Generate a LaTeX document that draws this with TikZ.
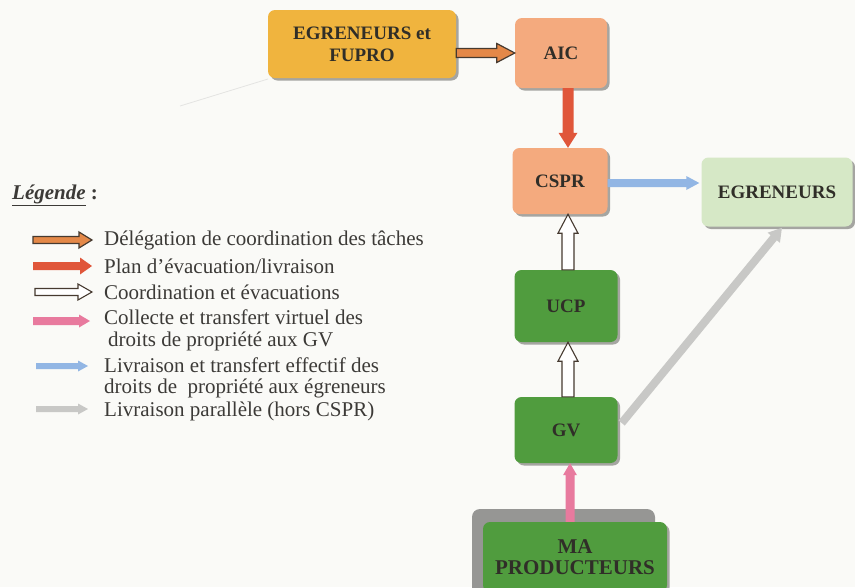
\documentclass[tikz,border=0pt]{standalone}
\usepackage{fontspec}
\setmainfont{Liberation Serif}
\usetikzlibrary{calc,shadows,arrows.meta}

\definecolor{bgc}{RGB}{250,250,247}
\definecolor{egfc}{RGB}{240,180,62}
\definecolor{salmonc}{RGB}{244,170,126}
\definecolor{dgreenc}{RGB}{80,156,62}
\definecolor{lgreenc}{RGB}{214,232,198}
\definecolor{txtc}{RGB}{48,46,40}
\definecolor{legc}{RGB}{60,58,55}
\definecolor{shadowc}{RGB}{120,120,115}
\definecolor{orangea}{RGB}{228,136,72}
\definecolor{outlinec}{RGB}{70,58,48}
\definecolor{reda}{RGB}{224,86,58}
\definecolor{pinka}{RGB}{232,122,158}
\definecolor{bluea}{RGB}{146,182,228}
\definecolor{graya}{RGB}{200,200,198}
\definecolor{mashadowc}{RGB}{150,150,148}
\definecolor{faintc}{RGB}{228,228,226}

% horizontal block arrow (left to right): style, start, tip, shaft half, head half, head length
\newcommand\myharrow[6]{\draw[#1] ($(#2)+(0,-#4)$) -- ($(#3)+(-#6,-#4)$) -- ($(#3)+(-#6,-#5)$) -- (#3) -- ($(#3)+(-#6,#5)$) -- ($(#3)+(-#6,#4)$) -- ($(#2)+(0,#4)$) -- cycle;}
% vertical block arrow: style, start, tip, shaft half, head half, head length (signed, toward start)
\newcommand\myvarrow[6]{\draw[#1] ($(#2)+(-#4,0)$) -- ($(#3)+(-#4,#6)$) -- ($(#3)+(-#5,#6)$) -- (#3) -- ($(#3)+(#5,#6)$) -- ($(#3)+(#4,#6)$) -- ($(#2)+(#4,0)$) -- cycle;}

\begin{document}
\begin{tikzpicture}[x=1pt,y=-1pt,
  box/.style={rounded corners=7pt, draw=none, text=txtc, align=center, inner sep=0pt,
    font=\bfseries\fontsize{19}{22}\selectfont,
    drop shadow={shadow xshift=2.5pt, shadow yshift=-2.5pt, fill=shadowc, opacity=0.65}},
  leg/.style={anchor=west, inner sep=0pt, text=legc, font=\fontsize{21}{24}\selectfont},
  orangefill/.style={fill=orangea, draw=outlinec, line width=1.2pt, line join=miter},
  redfill/.style={fill=reda, draw=none},
  hollow/.style={fill=white, draw=outlinec, line width=1.1pt, line join=miter},
  pinkfill/.style={fill=pinka, draw=none},
  bluefill/.style={fill=bluea, draw=none},
  grayfill/.style={fill=graya, draw=none}
]
\fill[bgc] (0,0) rectangle (855,587);
\useasboundingbox (0,0) rectangle (855,587);

% faint scan line
\draw[faintc, line width=0.8pt] (180,106) -- (268,79);

% boxes
\node[box, fill=egfc, minimum width=188pt, minimum height=68pt] (egf) at (362,44) {EGRENEURS et\\FUPRO};
\node[box, fill=salmonc, minimum width=92pt, minimum height=70pt] (aic) at (561,53) {AIC};
\node[box, fill=salmonc, minimum width=95pt, minimum height=66pt] (cspr) at (560,181) {CSPR};
\node[box, fill=lgreenc, minimum width=151pt, minimum height=69pt] (egr) at (777,192) {EGRENEURS};
\node[box, fill=dgreenc, minimum width=103pt, minimum height=72pt] (ucp) at (566,306) {UCP};
\node[box, fill=dgreenc, minimum width=103pt, minimum height=66pt] (gv) at (566,430) {GV};
\fill[mashadowc, rounded corners=8pt] (472,509) rectangle (655,600);
\node[box, fill=dgreenc, minimum width=184pt, minimum height=70pt,
  font=\bfseries\fontsize{21}{21.5}\selectfont] (ma) at (575,557) {MA\\PRODUCTEURS};

% connector end points
\coordinate (a1s) at (egf.east |- aic.west);
\coordinate (a1e) at (aic.west);
\coordinate (a2s) at ($(aic.south)+(7,0)$);
\coordinate (a2e) at ($(cspr.north)+(8,0)$);
\coordinate (a3s) at ($(ucp.north)+(2,0)$);
\coordinate (a3e) at ($(cspr.south)+(8,0)$);
\coordinate (a4s) at ($(gv.north)+(2,0)$);
\coordinate (a4e) at ($(ucp.south)+(2,0)$);
\coordinate (a5s) at ($(ma.north)+(-5,0)$);
\coordinate (a5e) at ($(gv.south)+(4,0)$);
\coordinate (a6s) at ($(cspr.east)+(0,2)$);
\coordinate (a6e) at ($(egr.west)+(-2,-9)$);
\coordinate (a7s) at ($(gv.east)+(4,-7)$);
\coordinate (a7e) at ($(egr.south)+(5,1)$);

% connectors
\myharrow{orangefill}{a1s}{a1e}{4.5}{9.5}{18}
\myvarrow{redfill}{a2s}{a2e}{5.5}{9.5}{-15}
\myvarrow{hollow}{a3s}{a3e}{6}{10}{19}
\myvarrow{hollow}{a4s}{a4e}{6}{10}{19}
\myvarrow{pinkfill}{a5s}{a5e}{4.5}{7}{12}
\myharrow{bluefill}{a6s}{a6e}{4}{7}{13}
\draw[graya, line width=8pt, -{Triangle[width=15pt,length=13pt]}] (a7s) -- (a7e);

% legend
\node[anchor=west, inner sep=0pt, text=legc, font=\fontsize{21}{24}\selectfont] (legt) at (12,195)
  {\underline{\textbf{\textit{Légende}}}\textbf{ :}};

\coordinate (l1s) at (33,240); \coordinate (l1e) at (92,240);
\coordinate (l2s) at (33,266); \coordinate (l2e) at (92,266);
\coordinate (l3s) at (35,292); \coordinate (l3e) at (92,292);
\coordinate (l4s) at (33,321); \coordinate (l4e) at (90,321);
\coordinate (l5s) at (36,366); \coordinate (l5e) at (88,366);
\coordinate (l6s) at (36,409); \coordinate (l6e) at (88,409);

\myharrow{orangefill}{l1s}{l1e}{3.5}{8}{13}
\myharrow{redfill}{l2s}{l2e}{4}{8.5}{12}
\myharrow{hollow}{l3s}{l3e}{3.5}{8}{14}
\myharrow{pinkfill}{l4s}{l4e}{4}{6.5}{11}
\myharrow{bluefill}{l5s}{l5e}{3}{5.5}{10}
\myharrow{grayfill}{l6s}{l6e}{3}{5.5}{10}

\node[leg] (t1) at (104,240) {Délégation de coordination des tâches};
\node[leg] (t2) at (104,266) {Plan d’évacuation/livraison};
\node[leg] (t3) at (104,292) {Coordination et évacuations};
\node[leg] (t4) at (104,317) {Collecte et transfert virtuel des};
\node[leg] (t5) at (108,341) {droits de propriété aux GV};
\node[leg] (t6) at (104,365) {Livraison et transfert effectif des};
\node[leg] (t7) at (104,388) {droits de\ \ propriété aux égreneurs};
\node[leg] (t8) at (104,411) {Livraison parallèle (hors CSPR)};
\end{tikzpicture}
\end{document}
